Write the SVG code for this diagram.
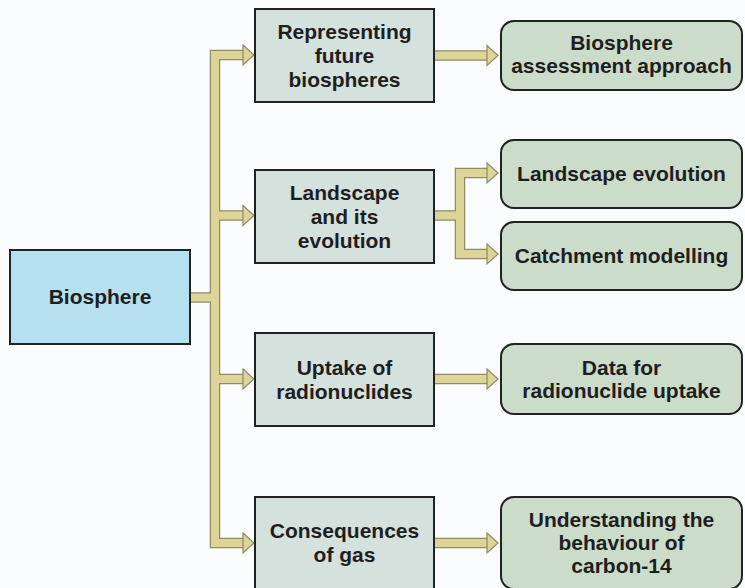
<svg xmlns="http://www.w3.org/2000/svg" width="745" height="588" viewBox="0 0 745 588">
<style>
.bg{fill:#fbfcfe}
.root{fill:#b5e0f0;stroke:#222;stroke-width:2}
.mid{fill:#d4e1dc;stroke:#222;stroke-width:2}
.out{fill:#cbdccb;stroke:#222;stroke-width:2}
text{font-family:"Liberation Sans",Arial,sans-serif;font-weight:bold;font-size:21px;fill:#1e1e1e;text-anchor:middle}
.edge{fill:none;stroke:#8f8b66;stroke-width:10.5;stroke-linejoin:miter;stroke-linecap:butt}
.core{fill:none;stroke:#ddd497;stroke-width:8;stroke-linejoin:miter;stroke-linecap:butt}
.head{fill:#ddd497;stroke:#8f8b66;stroke-width:1.2;stroke-linejoin:miter}
</style>
<defs>
<path id="h" d="M0,-10 L11,0 L0,10 Z"/>
</defs>
<rect class="bg" x="0" y="0" width="745" height="588"/>
<g id="connectors">
<path class="edge" d="M244,55 H215 V543 H244 M190,297.5 H215 M215,215.5 H244 M215,379 H244 M434,55.5 H488 M488,173 H460 V254 H488 M434,215.5 H460 M434,379 H488 M434,543 H488"/>
<path class="core" d="M244,55 H215 V543 H244 M189,297.5 H215 M215,215.5 H244 M215,379 H244 M433,55.5 H488 M488,173 H460 V254 H488 M433,215.5 H460 M433,379 H488 M433,543 H488"/>
<use href="#h" class="head" x="243" y="55"/>
<use href="#h" class="head" x="243" y="215.5"/>
<use href="#h" class="head" x="243" y="379"/>
<use href="#h" class="head" x="243" y="543"/>
<use href="#h" class="head" x="487" y="55.5"/>
<use href="#h" class="head" x="487" y="173"/>
<use href="#h" class="head" x="487" y="254"/>
<use href="#h" class="head" x="487" y="379"/>
<use href="#h" class="head" x="487" y="543"/>
</g>
<g id="biosphere">
<rect class="root" x="10" y="250" width="180" height="94"/>
<text x="100" y="304">Biosphere</text>
</g>
<g id="representing">
<rect class="mid" x="255" y="9" width="179" height="93"/>
<text x="344.5" y="38.5">Representing</text>
<text x="344.5" y="62.5">future</text>
<text x="344.5" y="86.5">biospheres</text>
</g>
<g id="landscape">
<rect class="mid" x="255" y="170" width="179" height="93"/>
<text x="344.5" y="199.5">Landscape</text>
<text x="344.5" y="223.5">and its</text>
<text x="344.5" y="247.5">evolution</text>
</g>
<g id="uptake">
<rect class="mid" x="255" y="333" width="179" height="93"/>
<text x="344.5" y="374.5">Uptake of</text>
<text x="344.5" y="398.5">radionuclides</text>
</g>
<g id="gas">
<rect class="mid" x="255" y="497" width="179" height="93"/>
<text x="344.5" y="538">Consequences</text>
<text x="344.5" y="562">of gas</text>
</g>
<g id="assessment">
<rect class="out" x="501" y="21" width="241" height="69" rx="13"/>
<text x="621.5" y="50">Biosphere</text>
<text x="621.5" y="73">assessment approach</text>
</g>
<g id="landscape-evolution">
<rect class="out" x="501" y="140" width="241" height="68" rx="13"/>
<text x="621.5" y="181">Landscape evolution</text>
</g>
<g id="catchment">
<rect class="out" x="501" y="222" width="241" height="68" rx="13"/>
<text x="621.5" y="263">Catchment modelling</text>
</g>
<g id="data">
<rect class="out" x="501" y="344" width="241" height="70" rx="13"/>
<text x="621.5" y="375">Data for</text>
<text x="621.5" y="398">radionuclide uptake</text>
</g>
<g id="carbon">
<rect class="out" x="501" y="497" width="241" height="92" rx="13"/>
<text x="621.5" y="527">Understanding the</text>
<text x="621.5" y="550">behaviour of</text>
<text x="621.5" y="573">carbon-14</text>
</g>
</svg>
